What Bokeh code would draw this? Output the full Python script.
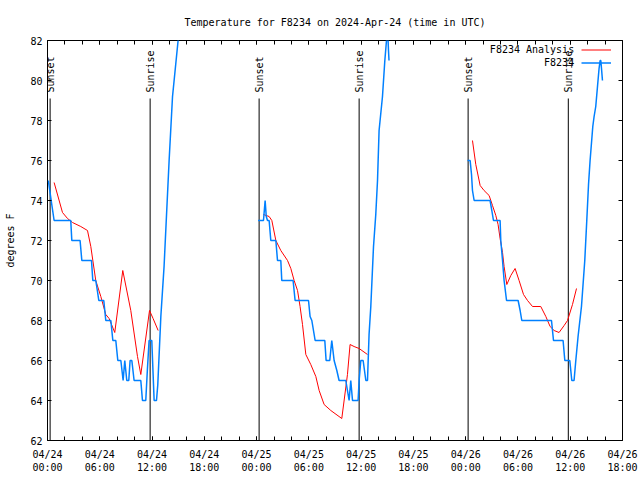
import numpy as np
import pandas as pd
from bokeh.plotting import figure
from bokeh.models import (Range1d, DatetimeAxis, LinearAxis, FixedTicker,
                          DatetimeTickFormatter, Legend, LegendItem, Label)
from bokeh.core.properties import value
from bokeh.embed import file_html
from bokeh.resources import INLINE

# ---------------- data (hours after 2024-04-24 00:00 UTC, degrees F) ----------------
START = pd.Timestamp("2024-04-24 00:00")
END = pd.Timestamp("2024-04-26 18:00")

obs_n1_hours = [0.09, 0.26, 0.49, 0.76, 2.67, 2.79, 3.74, 3.94, 5.05, 5.20, 5.54, 5.72,
                5.89, 6.46, 6.69, 7.27, 7.50, 7.84, 8.07, 8.42, 8.68, 8.87, 9.10, 9.33,
                9.48, 9.68, 9.94, 10.71, 10.90, 11.28, 11.46, 11.66, 11.97, 12.24, 12.51,
                12.66, 13.01, 13.38, 13.96, 14.35, 14.99, 15.19]
obs_n1_temp = [75.0, 74.5, 73.8, 73.0, 73.0, 72.0, 72.0, 71.0, 71.0, 70.0, 70.0, 69.5,
               69.0, 69.0, 68.0, 68.0, 67.0, 67.0, 66.0, 66.0, 65.0, 66.0, 65.0, 65.0,
               66.0, 66.0, 65.0, 65.0, 64.0, 64.0, 65.5, 67.0, 67.0, 64.0, 64.0,
               64.8, 68.2, 70.7, 76.0, 79.2, 82.0, 83.0]

obs_n2_hours = [24.17, 24.79, 24.98, 25.11, 25.25, 25.44, 25.63, 26.21, 26.40, 26.78,
                26.89, 28.19, 28.42, 29.96, 30.14, 30.34, 30.72, 31.83, 31.98, 32.40,
                32.63, 32.90, 33.21, 33.47, 34.24, 34.43, 34.62, 34.81, 35.01, 35.65,
                35.77, 35.96, 36.23, 36.54, 36.73, 36.91, 37.11, 37.42, 37.68, 37.88,
                38.06, 38.45, 38.72, 38.91, 39.02, 39.14, 39.20]
obs_n2_temp = [73.0, 73.0, 74.0, 73.2, 73.0, 73.0, 72.0, 72.0, 71.0, 71.0,
               70.0, 70.0, 69.0, 69.0, 68.2, 68.0, 67.0, 67.0, 66.0, 66.0,
               67.0, 66.0, 65.5, 65.0, 65.0, 64.5, 64.0, 65.0, 64.0, 64.0,
               65.0, 66.0, 66.0, 65.0, 65.0, 67.3, 68.7, 71.7, 73.3, 75.0,
               77.5, 79.2, 81.0, 82.0, 82.8, 81.5, 81.0]

obs_n3_hours = [48.21, 48.51, 48.67, 48.78, 48.97, 50.80, 51.00, 51.19, 51.95, 52.03,
                52.23, 52.41, 52.69, 54.02, 54.25, 54.44, 57.85, 58.08, 59.18, 59.38,
                59.95, 60.18, 60.44, 60.64, 60.90, 61.29, 61.67, 61.90, 62.10, 62.28,
                62.59, 62.74, 62.93, 63.13, 63.31, 63.43, 63.51, 63.59, 63.70]
obs_n3_temp = [76.0, 76.0, 75.3, 74.5, 74.0, 74.0, 73.5, 73.0, 73.0, 72.0,
               71.0, 70.0, 69.0, 69.0, 68.5, 68.0, 68.0, 67.0, 67.0, 66.0,
               66.0, 65.0, 65.0, 66.0, 67.2, 68.7, 71.0, 73.0, 74.8, 76.0,
               77.7, 78.2, 78.7, 79.7, 80.6, 81.0, 81.0, 80.6, 80.0]

ana_n1_hours = [0.76, 1.72, 2.30, 2.87, 3.82, 4.59, 4.97, 5.54, 6.12, 6.69, 7.07, 7.72,
                8.64, 9.56, 10.33, 10.71, 11.71, 12.12, 12.70]
ana_n1_temp = [74.9, 73.4, 73.1, 72.9, 72.7, 72.5, 71.7, 70.0, 69.2, 68.3, 68.1, 67.4,
               70.5, 68.5, 66.2, 65.3, 68.5, 68.1, 67.5]

ana_n2_hours = [24.79, 25.44, 25.75, 26.21, 26.78, 27.55, 27.93, 28.31, 28.70, 28.99,
                29.27, 29.65, 30.22, 30.80, 31.18, 31.75, 32.52, 33.78, 34.43, 34.73,
                35.19, 35.77, 36.73]
ana_n2_temp = [73.3, 73.2, 73.0, 72.0, 71.5, 71.0, 70.6, 70.0, 69.5, 68.7,
               67.8, 66.3, 65.8, 65.2, 64.5, 63.8, 63.5, 63.1, 65.3, 66.8,
               66.7, 66.6, 66.3]

ana_n3_hours = [48.78, 49.16, 49.66, 50.11, 50.69, 51.08, 51.46, 51.72, 51.95, 52.23,
                52.41, 52.72, 53.18, 53.67, 54.13, 54.64, 55.10, 55.67, 56.62, 57.20,
                57.69, 58.15, 58.72, 59.30, 59.69, 60.26, 60.72]
ana_n3_temp = [77.0, 75.8, 74.75, 74.5, 74.25, 73.75, 73.25, 72.8, 72.1, 71.4,
               70.7, 69.8, 70.25, 70.6, 70.0, 69.3, 69.0, 68.7, 68.7, 68.2,
               67.7, 67.5, 67.4, 67.75, 68.0, 68.8, 69.6]

sunset_hours = [0.30, 24.29, 48.28]
sunrise_hours = [11.78, 35.77, 59.78]

y_ticks = [62, 64, 66, 68, 70, 72, 74, 76, 78, 80, 82]
x_major_step_hours = 6
x_minor_step_hours = 2

TITLE = "Temperature for F8234 on 2024-Apr-24 (time in UTC)"
Y_LABEL = "degrees F"
SERIES_ANALYSIS = "F8234 Analysis"
SERIES_OBS = "F8234"

# ---------------- helpers ----------------
MS_PER_H = 3600000.0
t0 = START.value / 1e6
t1 = END.value / 1e6


def to_ms(hours):
    return [t0 + h * MS_PER_H for h in hours]


def join_nights(parts):
    xs, ys = [], []
    for i, (h, t) in enumerate(parts):
        if i:
            xs.append(xs[-1])
            ys.append(np.nan)
        xs.extend(to_ms(h))
        ys.extend(t)
    return xs, ys


obs_x, obs_y = join_nights([(obs_n1_hours, obs_n1_temp), (obs_n2_hours, obs_n2_temp),
                            (obs_n3_hours, obs_n3_temp)])
ana_x, ana_y = join_nights([(ana_n1_hours, ana_n1_temp), (ana_n2_hours, ana_n2_temp),
                            (ana_n3_hours, ana_n3_temp)])

FONT = "DejaVu Sans Mono"
FS = "10px"
RED = "#ff0000"
BLUE = "#0080ff"

p = figure(width=640, height=480, output_backend="svg", toolbar_location=None,
           x_axis_type="datetime", x_range=Range1d(t0, t1), y_range=Range1d(62, 82),
           min_border_left=47, min_border_right=18, min_border_top=40, min_border_bottom=40,
           title=TITLE)

p.background_fill_color = "white"
p.border_fill_color = "white"
p.outline_line_color = "black"
p.outline_line_width = 1
p.xgrid.visible = False
p.ygrid.visible = False

p.title.text_font = FONT
p.title.text_font_size = FS
p.title.text_font_style = "normal"
p.title.text_color = "black"
p.title.align = "center"
p.title.standoff = 21
p.title.vertical_align = "top"

n_major = int((t1 - t0) / (x_major_step_hours * MS_PER_H)) + 1
x_major = [t0 + i * x_major_step_hours * MS_PER_H for i in range(n_major)]
n_minor = int((t1 - t0) / (x_minor_step_hours * MS_PER_H)) + 1
x_minor = [t0 + i * x_minor_step_hours * MS_PER_H for i in range(n_minor)]
fmt = "%m/%d\n%H:%M"
dt_fmt = DatetimeTickFormatter(microseconds=fmt, milliseconds=fmt, seconds=fmt,
                               minsec=fmt, minutes=fmt, hourmin=fmt, hours=fmt,
                               days=fmt, months=fmt, years=fmt)


def style_axis(ax, show_labels):
    ax.axis_line_color = None
    ax.major_tick_in = 4
    ax.major_tick_out = 0
    ax.major_tick_line_color = "black"
    ax.minor_tick_line_color = "black"
    ax.major_label_text_font = FONT
    ax.major_label_text_font_size = FS if show_labels else "1px"
    ax.major_label_text_color = "black" if show_labels else None


xa = p.xaxis[0]
xa.ticker = FixedTicker(ticks=x_major, minor_ticks=x_minor)
xa.formatter = dt_fmt
style_axis(xa, True)
xa.minor_tick_in = 4
xa.minor_tick_out = 0
xa.major_label_standoff = 8
xa.major_label_text_line_height = 1.2

ya = p.yaxis[0]
ya.ticker = FixedTicker(ticks=y_ticks, minor_ticks=[])
style_axis(ya, True)
ya.minor_tick_in = 0
ya.minor_tick_out = 0
ya.major_label_standoff = 5
ya.axis_label = Y_LABEL
ya.axis_label_text_font = FONT
ya.axis_label_text_font_size = FS
ya.axis_label_text_font_style = "normal"
ya.axis_label_text_color = "black"
ya.axis_label_standoff = 11

top_ax = DatetimeAxis(ticker=FixedTicker(ticks=x_major, minor_ticks=x_minor), formatter=dt_fmt,
                      major_label_standoff=0)
style_axis(top_ax, False)
top_ax.minor_tick_in = 4
top_ax.minor_tick_out = 0
p.add_layout(top_ax, "above")

right_ax = LinearAxis(ticker=FixedTicker(ticks=y_ticks, minor_ticks=[]), major_label_standoff=0)
style_axis(right_ax, False)
right_ax.minor_tick_in = 0
right_ax.minor_tick_out = 0
p.add_layout(right_ax, "right")

# sunrise / sunset markers
SUN_LINE_TOP = 79.1
SUN_TEXT_Y = 79.4
sun_ms = to_ms(sunset_hours) + to_ms(sunrise_hours)
sun_txt = ["Sunset"] * len(sunset_hours) + ["Sunrise"] * len(sunrise_hours)
p.segment(x0=sun_ms, y0=[62] * len(sun_ms), x1=sun_ms, y1=[SUN_LINE_TOP] * len(sun_ms),
          line_color="black", line_width=1)
p.text(x=sun_ms, y=[SUN_TEXT_Y] * len(sun_ms), text=sun_txt, angle=np.pi / 2,
       text_font=value(FONT), text_font_size=value(FS), text_color="black",
       text_align="left", text_baseline="middle")

r_ana = p.line(ana_x, ana_y, line_color=RED, line_width=1)
r_obs = p.line(obs_x, obs_y, line_color=BLUE, line_width=1.5)

legend = Legend(items=[LegendItem(label=" ", renderers=[r_ana]),
                       LegendItem(label=" ", renderers=[r_obs])],
                location=(534, 371), orientation="vertical", glyph_width=30,
                glyph_height=13, label_height=13, label_width=0, label_standoff=0,
                spacing=0, padding=0, margin=0, border_line_color=None,
                background_fill_alpha=0, label_text_font_size="10px")
p.add_layout(legend)

LEG_X = t0 + 60.45 * MS_PER_H
for txt, yy in [(SERIES_ANALYSIS, 81.535), (SERIES_OBS, 80.885)]:
    p.add_layout(Label(x=LEG_X, y=yy, text=txt, text_align="right", text_baseline="middle",
                       text_font=FONT, text_font_size=FS, text_color="black"))

open("out.html", "w").write(file_html(p, INLINE))
